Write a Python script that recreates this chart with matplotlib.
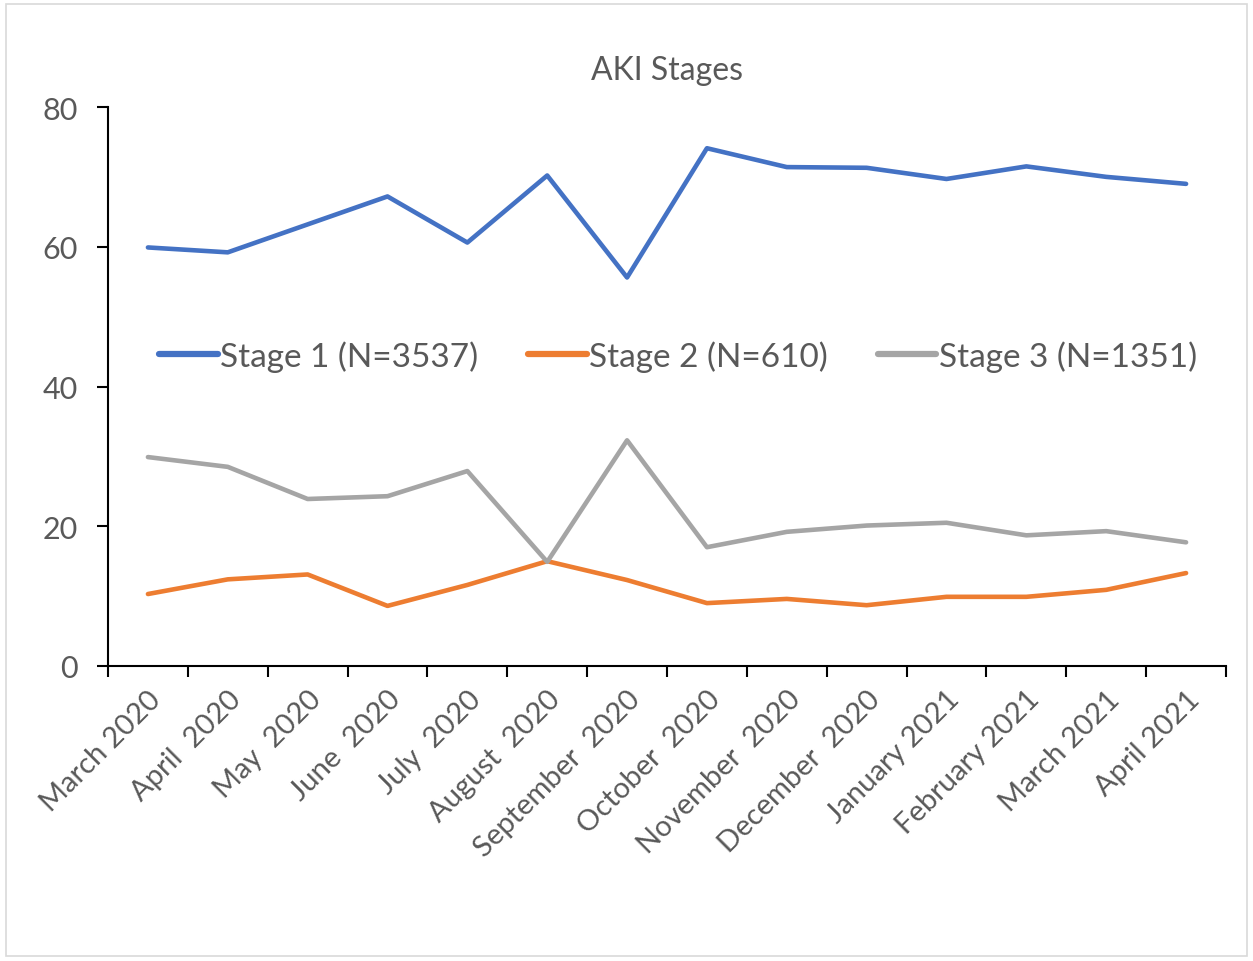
import matplotlib
matplotlib.use("Agg")
import matplotlib.pyplot as plt
from matplotlib.patches import Rectangle

months = ["March 2020", "April  2020", "May  2020", "June  2020", "July  2020",
          "August  2020", "September  2020", "October  2020", "November  2020",
          "December  2020", "January 2021", "February 2021", "March 2021", "April 2021"]
stage1 = [59.9, 59.2, 63.2, 67.2, 60.6, 70.2, 55.6, 74.1, 71.4, 71.3, 69.7, 71.5, 70.0, 69.0]
stage2 = [10.3, 12.4, 13.1, 8.6, 11.6, 15.0, 12.3, 9.0, 9.6, 8.7, 9.9, 9.9, 10.9, 13.3]
stage3 = [29.9, 28.5, 23.9, 24.3, 27.9, 14.9, 32.3, 17.0, 19.2, 20.1, 20.5, 18.7, 19.3, 17.7]
series_names = ["Stage 1 (N=3537)", "Stage 2 (N=610)", "Stage 3 (N=1351)"]
colors = ["#4472C4", "#ED7D31", "#A5A5A5"]
yticks = [0, 20, 40, 60, 80]

plt.rcParams['font.family'] = ['Lato', 'DejaVu Sans']
txt = "#595959"

W, H = 1253, 962
fig = plt.figure(figsize=(W / 100, H / 100), dpi=100)
fig.patches.append(Rectangle((6 / W, 1 - 957 / H), (1247 - 6) / W, (957 - 5) / H,
                             transform=fig.transFigure, fill=False,
                             edgecolor="#D9D9D9", linewidth=1.2))

ax = fig.add_axes([108 / W, 1 - 667 / H, (1226 - 108) / W, (667 - 108) / H])
x = list(range(len(months)))
for vals, name, c in zip([stage1, stage2, stage3], series_names, colors):
    ax.plot(x, vals, color=c, linewidth=3.3, label=name, solid_capstyle="round",
            solid_joinstyle="round")

ax.set_xlim(-0.5, len(months) - 0.5)
ax.set_ylim(0, 80)
ax.set_yticks(yticks)
ax.set_yticklabels([str(v) for v in yticks])
ax.set_xticks(x)
ax.set_xticklabels(months, rotation=45, ha="right", rotation_mode="anchor")
ax.set_xticks([i - 0.5 for i in range(len(months) + 1)], minor=True)
ax.tick_params(axis="x", which="major", length=0, pad=14, labelsize=21, labelcolor=txt)
ax.tick_params(axis="x", which="minor", length=8, width=1.5, direction="out", color="black")
ax.tick_params(axis="y", length=8, width=1.5, direction="out", labelsize=22,
               labelcolor=txt, pad=14)
for s in ["top", "right"]:
    ax.spines[s].set_visible(False)
for s in ["left", "bottom"]:
    ax.spines[s].set_linewidth(1.5)
    ax.spines[s].set_color("black")

ax.set_title("AKI Stages", fontsize=23, color=txt, pad=20)
leg = ax.legend(loc="center", bbox_to_anchor=(0.51, 0.555), ncol=3, frameon=False,
                fontsize=24, handlelength=1.75, handletextpad=0.08, columnspacing=1.5,
                labelcolor=txt)
for h in leg.get_lines():
    h.set_linewidth(4.5)

fig.savefig("out.png", dpi=100)
